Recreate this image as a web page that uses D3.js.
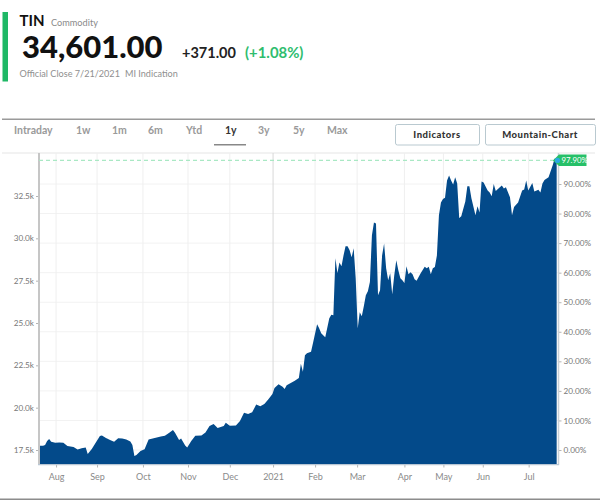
<!DOCTYPE html>
<html><head><meta charset="utf-8">
<script src="https://cdn.jsdelivr.net/npm/d3@7"></script>
<style>html,body{margin:0;padding:0;background:#fff}svg{display:block}text{font-family:Lato,sans-serif}</style>
</head><body><svg id="c" width="600" height="500"></svg>
<script>
const sessions=[0,2,3,4,5,6,8,10,12,14,17,19,21,23,24,26,28,30,31,33,35,37,39,41,43,45,46,47,48,50,52,54,57,60,62,64,66,67,69,70,72,73,75,77,80,82,84,86,88,91,92,94,97,99,101,103,105,107,109,111,113,115,116,118,120,121,122,124,126,128,129,130,131,132,134,135,137,138,139,141,143,144,145,146,147,148,149,150,151,152,153,154,155,156,157,158,159,160,161,162,163,164,165,166,167,168,169,170,171,172,173,174,175,176,177,178,179,180,181,182,183,184,185,186,188,190,191,192,193,194,195,196,197,198,199,200,201,202,203,204,205,206,207,208,210,211,212,213,215,216,217,218,219,221,222,223,224,225,227,228,229,230,232,233,234,236,238,239,240,241,243,244,246,247,248,249,251,253,254,255];
const closes=[17750,17750,17790,18030,18150,17990,17930,17940,17930,17740,17680,17530,17600,17650,17260,17560,17940,18330,18350,18210,18090,17990,18190,18180,18120,18000,17790,17150,17210,17440,17540,18120,18210,18300,18340,18500,18680,18520,18090,18180,17770,17650,18030,18340,18350,18530,18920,19030,18800,18920,19110,18930,18940,19210,19700,19630,19730,20180,20090,20210,20490,20800,21160,21390,21230,21100,21330,21450,21590,21750,22600,22120,23100,23220,23300,23840,24930,24690,24400,24160,25280,25490,25460,28820,27950,28580,28350,28990,29530,29530,29290,28880,29410,27640,24690,25640,25400,25990,26640,26870,27420,30180,30940,30870,26640,26930,28990,29700,28230,27520,27940,26700,27820,28700,28110,27640,27520,27360,28350,27880,27990,27880,27580,27490,27940,28320,28230,28320,27880,28230,28310,28990,31360,32120,32330,32390,33420,33710,33420,33180,33600,33240,31200,31300,32180,33070,33070,32360,31360,31890,31530,33360,33300,32830,32710,32480,33210,32790,33010,33120,32950,33010,32420,31360,31850,32120,32830,32890,33420,32830,33270,32770,32870,32710,33240,33450,33610,34300,34720,34601];
const monthLabels=["Aug","Sep","Oct","Nov","Dec","2021","Feb","Mar","Apr","May","Jun","Jul"];
const monthSessions=[8.4,28.6,51.2,73.4,94,115.3,136,156.7,180,199.2,218.6,241.2];
const priceTicks=[17500,20000,22500,25000,27500,30000,32500];
const pctTicks=[0,10,20,30,40,50,60,70,80,90];
const tabs=["Intraday","1w","1m","6m","Ytd","1y","3y","5y","Max"];
const tabX=[14,76,112,148,186,225,258,293,327];

const svg=d3.select("#c");
const x=d3.scaleLinear().domain([0,256]).range([39,558.7]);
const y=d3.scaleLinear().domain([17500,32500]).range([450,196]);
const yPct=d3.scaleLinear().domain([0,90]).range([450,184]);
const plotBottom=464.5,plotTop=153;

const txt=(t,px,py,o={})=>svg.append("text").attr("x",px).attr("y",py).text(t)
  .attr("font-size",o.s||10).attr("font-weight",o.w||400).attr("fill",o.c||"#888")
  .attr("text-anchor",o.a||"start").style("letter-spacing",o.l||null);

// header
svg.append("rect").attr("x",2.5).attr("y",12).attr("width",5.5).attr("height",69.5).attr("fill","#1fb866");
txt("TIN",19.5,25.5,{s:15,w:700,c:"#111"});
txt("Commodity",51,25.5,{s:9.2,c:"#8a8a8a"});
txt("34,601.00",22,58,{s:31,w:900,c:"#111"});
txt("+371.00",182,57.5,{s:14.5,w:700,c:"#222"});
txt("(+1.08%)",245,57.5,{s:14.9,w:700,c:"#2fbd6e"});
txt("Official Close 7/21/2021",19.5,77,{s:9.1,c:"#8f8f8f"});
txt("MI Indication",125,77,{s:9.1,c:"#8f8f8f"});

// tab bar
svg.append("rect").attr("x",2).attr("y",118.5).attr("width",593).attr("height",1.5).attr("fill","#9a9a9a");
tabs.forEach((t,i)=>txt(t,tabX[i],134,{s:10.5,w:700,c:t==="1y"?"#333":"#9a9a9a"}));
svg.append("rect").attr("x",214).attr("y",144).attr("width",32).attr("height",1.5).attr("fill","#888");
[[395,84,"Indicators"],[485,110,"Mountain-Chart"]].forEach(([bx,bw,t])=>{
  svg.append("rect").attr("x",bx+.5).attr("y",124.5).attr("width",bw).attr("height",20.5).attr("rx",2)
    .attr("fill","#fff").attr("stroke","#b9c9d0");
  txt(t,bx+bw/2,138,{s:9.5,w:900,c:"#333",a:"middle",l:"0.5px"});
});

// frame and grid
svg.append("rect").attr("x",2).attr("y",152).attr("width",593).attr("height",2).attr("fill","#f2f2f2");
svg.append("g").selectAll("line").data(pctTicks).join("line")
  .attr("x1",39).attr("x2",558).attr("y1",d=>yPct(d)).attr("y2",d=>yPct(d)).attr("stroke","#f2f2f2");
svg.append("g").selectAll("line").data(monthSessions).join("line")
  .attr("x1",d=>x(d)).attr("x2",d=>x(d)).attr("y1",plotTop).attr("y2",plotBottom)
  .attr("stroke",(d,i)=>monthLabels[i]==="2021"?"#d8d8d8":"#efefef");

// area
const rows=sessions.map((s,i)=>({s,v:closes[i]}));
svg.append("path").datum(rows).attr("fill","#034a8a")
  .attr("d",d3.area().x(d=>x(d.s)).y0(plotBottom).y1(d=>y(d.v)));

// axes
const axL=svg.append("g").attr("transform","translate(39,0)")
  .call(d3.axisLeft(y).tickValues(priceTicks).tickFormat(d=>(d/1000).toFixed(1)+"k").tickSize(3).tickPadding(2));
const axR=svg.append("g").attr("transform","translate(558.5,0)")
  .call(d3.axisRight(yPct).tickValues(pctTicks).tickFormat(d=>d.toFixed(2)+"%").tickSize(3).tickPadding(2));
const axB=svg.append("g").attr("transform",`translate(0,${plotBottom})`)
  .call(d3.axisBottom(x).tickValues(monthSessions).tickFormat((d,i)=>monthLabels[i]).tickSize(3).tickPadding(6));
[axL,axR,axB].forEach(g=>{
  g.select(".domain").remove();
  g.selectAll("line").attr("stroke","#b5b5b5");
  g.selectAll("text").attr("fill","#777").attr("font-size",8.2).style("font-family","Lato,sans-serif");
});
axB.selectAll("text").attr("fill","#8a8a8a").attr("font-size",9);
svg.append("line").attr("x1",39).attr("x2",39).attr("y1",plotTop).attr("y2",plotBottom+.5).attr("stroke","#c6c6c6").attr("stroke-width",2);
svg.append("line").attr("x1",558.5).attr("x2",558.5).attr("y1",plotTop).attr("y2",plotBottom+.5).attr("stroke","#c9d0d6").attr("stroke-width",1.5);
svg.append("line").attr("x1",38).attr("x2",559).attr("y1",plotBottom+.2).attr("y2",plotBottom+.2).attr("stroke","#b8c6d4").attr("stroke-width",1.2);

// last value marker
const last=closes[closes.length-1], ly=y(last);
svg.append("line").attr("x1",39).attr("x2",556).attr("y1",ly).attr("y2",ly)
  .attr("stroke","#a9e8c4").attr("stroke-width",1.2).attr("stroke-dasharray","4 3");
svg.append("path").attr("fill","#26c068")
  .attr("d",d3.line()([[553,ly],[559,ly-6],[586.5,ly-6],[586.5,ly+5.5],[559,ly+5.5]]));
svg.append("circle").attr("cx",557.5).attr("cy",ly).attr("r",2.6).attr("fill","#2aa8e0");
txt("97.90%",561.5,ly+3,{s:7.8,c:"#fff",w:400});

// bottom rule
svg.append("rect").attr("x",0).attr("y",498.5).attr("width",600).attr("height",1.5).attr("fill","#8c8c8c");
</script></body></html>
